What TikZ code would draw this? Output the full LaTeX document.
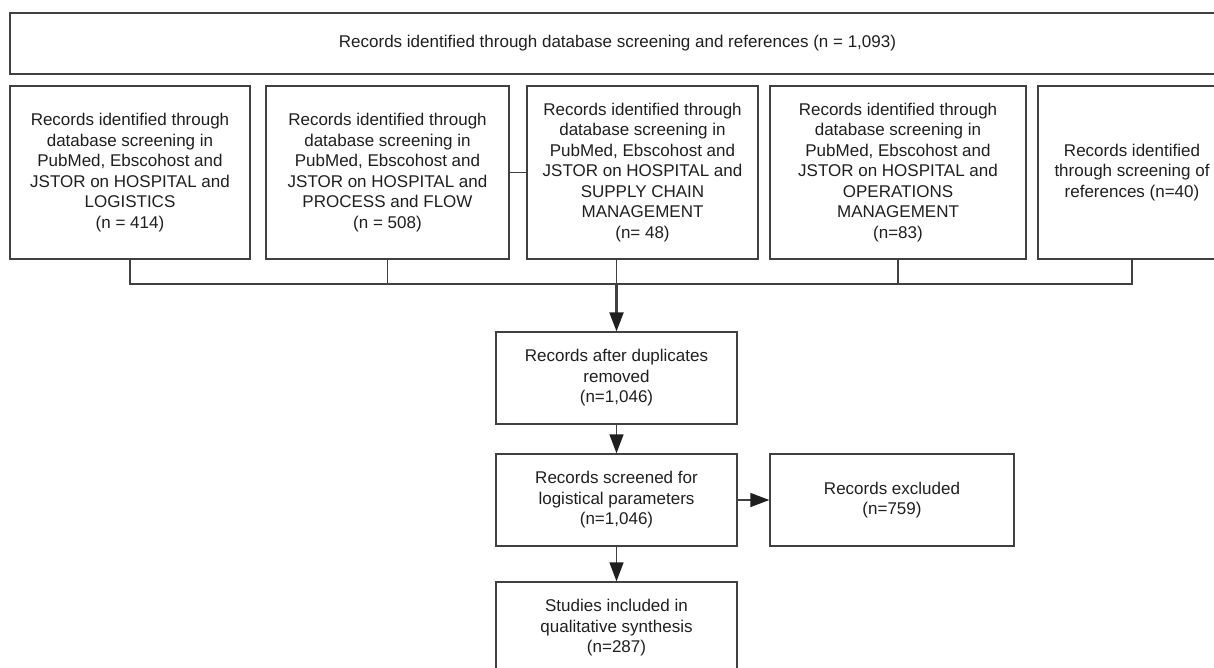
\documentclass[tikz,border=0pt]{standalone}
\usepackage{fontspec}
\setmainfont{Liberation Sans}
\usetikzlibrary{arrows.meta}

\begin{document}
\begin{tikzpicture}[
    x=1pt,
    y=-1pt,
    caja/.style={draw=black!75, line width=1.3pt, inner sep=0pt, align=center,
        text=black!88, font=\fontsize{17}{20.5}\selectfont},
    enlace/.style={draw=black!75, line width=1.3pt},
    grueso/.style={line width=2.1pt},
    flecha/.style={enlace, -{Triangle[length=19pt, width=14pt, color=black!88]}}
]
\useasboundingbox (0,0) rectangle (1214,667);

% Total de registros
\node[caja, minimum width=1215, minimum height=61] (total) at (617.5,43.5)
    {Records identified through database screening and references (n = 1,093)};

% Búsquedas / centro x / ancho / texto
\node[caja, minimum width=240, minimum height=173] (b1) at (130,172.5)
    {Records identified through\\database screening in\\PubMed, Ebscohost and\\JSTOR on HOSPITAL and\\LOGISTICS\\(n = 414)};
\node[caja, minimum width=243, minimum height=173] (b2) at (387.5,172.5)
    {Records identified through\\database screening in\\PubMed, Ebscohost and\\JSTOR on HOSPITAL and\\PROCESS and FLOW\\(n = 508)};
\node[caja, minimum width=231, minimum height=173] (b3) at (642.5,172.5)
    {Records identified through\\database screening in\\PubMed, Ebscohost and\\JSTOR on HOSPITAL and\\SUPPLY CHAIN\\MANAGEMENT\\(n= 48)};
\node[caja, minimum width=256, minimum height=173] (b4) at (898,172.5)
    {Records identified through\\database screening in\\PubMed, Ebscohost and\\JSTOR on HOSPITAL and\\OPERATIONS\\MANAGEMENT\\(n=83)};
\node[caja, minimum width=188, minimum height=173] (b5) at (1132,172.5)
    {Records identified\\through screening of\\references (n=40)};

% Cribado
\node[caja, minimum width=241, minimum height=92] (dup) at (616.5,378)
    {Records after duplicates\\removed\\(n=1,046)};
\node[caja, minimum width=241, minimum height=92] (scr) at (616.5,500)
    {Records screened for\\logistical parameters\\(n=1,046)};
\node[caja, minimum width=244, minimum height=92] (exc) at (892,500)
    {Records excluded\\(n=759)};
\node[caja, minimum width=241, minimum height=92] (stu) at (616.5,628)
    {Studies included in\\qualitative synthesis\\(n=287)};

% Unión de las búsquedas
\coordinate (union) at (616.5,284);
\draw[enlace] (b2.east) -- (b3.west);
\draw[enlace] (b1.south) |- (b2.south |- union);
\draw[enlace] (b2.south) -- (b2.south |- union);
\draw[enlace] (union |- b3.south) -- (union);
\draw[enlace] (b4.south) -- (b4.south |- union);
\draw[enlace] (b5.south) |- (b4.south |- union);
\draw[enlace, grueso] (b2.south |- union) -- (b4.south |- union);

% Flechas
\draw[flecha, grueso] (union) -- (dup);
\draw[flecha] (dup) -- (scr);
\draw[flecha] (scr) -- (exc);
\draw[flecha] (scr) -- (stu);

\end{tikzpicture}
\end{document}
